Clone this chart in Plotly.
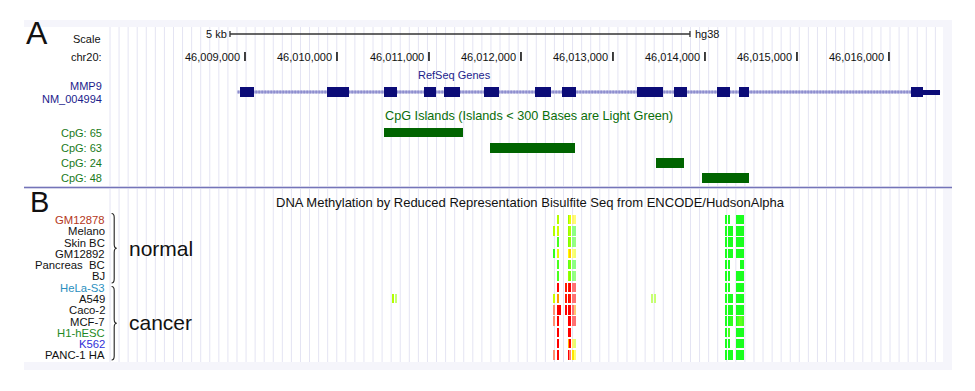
import plotly.graph_objects as go

W, H = 975, 391
FONT = "Liberation Sans, Arial, sans-serif"

# ---- genomic axis calibration (from tick marks in the picture) ----
X0_BP = 46006337
BP_PER_PX = 10.87
X1_BP = X0_BP + W * BP_PER_PX

tick_bp = [46009000, 46010000, 46011000, 46012000, 46013000, 46014000, 46015000, 46016000]
tick_labels = ["46,009,000", "46,010,000", "46,011,000", "46,012,000",
               "46,013,000", "46,014,000", "46,015,000", "46,016,000"]
scale_start_bp, scale_len_bp = 46008837, 5000

# ---- RefSeq gene MMP9 ----
gene_start, gene_end = 46008920, 46016555
exon_starts = [46008946, 46009891, 46010511, 46010946, 46011163, 46011598, 46012152,
               46012446, 46013261, 46013663, 46014131, 46014370, 46016240]
exon_ends = [46009098, 46010131, 46010652, 46011076, 46011337, 46011761, 46012326,
             46012598, 46013544, 46013805, 46014272, 46014479, 46016370]
utr_start, utr_end = 46016370, 46016555

# ---- CpG islands ----
cpg_names = ["CpG: 65", "CpG: 63", "CpG: 24", "CpG: 48"]
cpg_starts = [46010511, 46011663, 46013468, 46013968]
cpg_ends = [46011370, 46012587, 46013772, 46014479]

# ---- RRBS methylation ----
cell_lines = ["GM12878", "Melano", "Skin BC", "GM12892", "Pancreas\u00a0 BC", "BJ",
              "HeLa-S3", "A549", "Caco-2", "MCF-7", "H1-hESC", "K562", "PANC-1 HA"]
cell_colors = ["#b5381c", "#111111", "#111111", "#111111", "#111111", "#111111",
               "#2a8fc0", "#111111", "#111111", "#111111", "#1f8a1f", "#3030d8", "#111111"]

N = None
sites_1 = [46012362, 46012406, 46012424, 46012495, 46012519, 46012535, 46012571, 46012589]
meth_1 = [
    [N, 35, N, N, 30, 45, 55, 50],
    [35, 40, N, N, 30, 35, 10, 10],
    [N, 15, N, N, 25, 30, 10, 15],
    [10, 45, N, N, 50, 60, 50, 45],
    [N, 15, N, N, 20, 25, 10, 10],
    [N, 15, N, N, 30, 25, 10, 15],
    [N, 100, N, 95, 95, 100, 100, 100],
    [40, 70, N, 95, 100, 95, 100, 100],
    [90, 100, 100, 100, 100, 100, 100, 70],
    [90, 100, N, N, 100, 100, 100, 100],
    [N, 100, N, N, 100, 100, N, N],
    [N, 100, N, N, 65, 100, 55, 40],
    [90, 100, N, N, 100, 95, 55, 50],
]
cov_1 = ["HHHHHHLL", "HHHHHHLL", "HHHHHHLL", "HHHHHHLL", "HHHHHHLL", "HHHHHHLL",
         "HHHHHHLL", "HHHHHHLL", "LHHHHHLL", "LHHHHHLL", "HHHHHHHH", "HHHHHHLL",
         "LHHHHLHL"]

sites_2 = [46014231, 46014264, 46014283, 46014300, 46014345, 46014363, 46014381,
           46014398, 46014416]
meth_2 = [
    [5, 5, N, N, 5, 5, 5, 5, 5],
    [5, 5, 5, 5, 5, 5, 5, 5, 5],
    [5, 5, 5, 5, 5, 5, 5, 5, 5],
    [5, 5, 5, 5, 5, 5, 5, 5, 5],
    [5, 5, N, N, N, N, N, 5, 5],
    [5, 5, N, N, 5, 5, 5, 5, 5],
    [5, 5, N, N, 5, 5, 5, 5, 5],
    [5, 5, 5, 5, 5, 5, 5, 5, 5],
    [5, 5, 5, 5, 5, 5, 5, 5, 5],
    [5, 5, 10, 10, 5, 15, 20, 20, 15],
    [5, 15, N, N, 5, 5, 5, 5, 5],
    [5, 5, N, N, 5, 5, 5, 5, 5],
    [5, 5, 5, 5, 5, 5, 5, 5, 5],
]

lone_sites = [46010615, 46010644, 46013430, 46013460]
lone_row = "A549"
lone_meth = [35, 30, 30, 30]
lone_cov = "HLLL"


# ---------------------------------------------------------------
def px(x):
    return x / W


def meth_color(v, cov):
    if v <= 50:
        t = v / 50.0
        r, g, b = 255 * t, 255, 0
    else:
        t = (v - 50) / 50.0
        r, g, b = 255, 255 * (1 - t), 0
    if v < 25:
        r, g, b = r * 0.9 + 40 * 0.1, g, b + 30
    if cov == "L":
        f = 0.45
        r, g, b = r + (255 - r) * f, g + (255 - g) * f, b + (255 - b) * f
    return "rgb(%d,%d,%d)" % (r, g, b)


fig = go.Figure()

shapes = []
annotations = []


def ann(text, x, y, size=11, color="#111111", xanchor="right", yanchor="middle"):
    annotations.append(dict(text=text, x=px(x), y=y, xref="paper", yref="y",
                            xanchor=xanchor, yanchor=yanchor, showarrow=False,
                            font=dict(family=FONT, size=size, color=color)))


def rect_px(x0, y0, x1, y1, color):
    shapes.append(dict(type="rect", xref="paper", yref="y", x0=px(x0), x1=px(x1),
                       y0=y0, y1=y1, fillcolor=color, line=dict(width=0), layer="below"))


# panel backgrounds
rect_px(24, 20, 952, 370, "#f5f5fb")
rect_px(24, 27, 943, 186, "#ffffff")
rect_px(24, 189, 943, 362, "#ffffff")

# guide lines (every ~9 px across the data area), drawn beneath the data
step_bp = 9.07 * BP_PER_PX
pos = X0_BP + 110 * BP_PER_PX
while pos < X0_BP + 944 * BP_PER_PX:
    for (ya, yb) in [(27, 186), (189, 362)]:
        shapes.append(dict(type="line", xref="x", yref="y", x0=pos, x1=pos, y0=ya, y1=yb,
                           line=dict(color="#e4e4f3", width=1), layer="below"))
    pos += step_bp

# separator between panels
shapes.append(dict(type="line", xref="paper", yref="y", x0=px(24), x1=px(952), y0=187.5,
                   y1=187.5, line=dict(color="#7474b8", width=1.6)))

# scale bar
s0, s1 = scale_start_bp, scale_start_bp + scale_len_bp
shapes.append(dict(type="line", xref="x", yref="y", x0=s0, x1=s1, y0=34, y1=34,
                   line=dict(color="#333333", width=1.3)))
for xs in (s0, s1):
    shapes.append(dict(type="line", xref="x", yref="y", x0=xs, x1=xs, y0=31, y1=37,
                       line=dict(color="#333333", width=1.3)))
ann("5 kb", (s0 - X0_BP) / BP_PER_PX - 1, 34, size=11, xanchor="right")
ann("hg38", (s1 - X0_BP) / BP_PER_PX + 3, 34, size=11, xanchor="left")

# chromosome ticks
for tb, tl in zip(tick_bp, tick_labels):
    shapes.append(dict(type="line", xref="x", yref="y", x0=tb, x1=tb, y0=52, y1=61,
                       line=dict(color="#111111", width=1.6)))
    ann(tl, (tb - X0_BP) / BP_PER_PX - 3, 56.5, size=11, xanchor="right")

# gene model: intron line beneath the exon bars
shapes.append(dict(type="line", xref="x", yref="y", x0=gene_start, x1=gene_end, y0=92, y1=92,
                   line=dict(color="rgb(170,170,220)", width=3), layer="below"))
shapes.append(dict(type="line", xref="x", yref="y", x0=gene_start, x1=gene_end, y0=92, y1=92,
                   line=dict(color="rgb(125,125,198)", width=3, dash="1px,2px"),
                   layer="below"))
exon_x = [e - s for s, e in zip(exon_starts, exon_ends)]
fig.add_trace(go.Bar(orientation="h", y=[92] * len(exon_starts), x=exon_x, base=exon_starts,
                     width=9.5, marker=dict(color="#0c0c78", line=dict(width=0)),
                     hoverinfo="skip", showlegend=False))
fig.add_trace(go.Bar(orientation="h", y=[92], x=[utr_end - utr_start], base=[utr_start],
                     width=5, marker=dict(color="#0c0c78", line=dict(width=0)),
                     hoverinfo="skip", showlegend=False))

# CpG islands
cpg_y = [132.5, 148, 163, 178]
fig.add_trace(go.Bar(orientation="h", y=cpg_y,
                     x=[e - s for s, e in zip(cpg_starts, cpg_ends)], base=cpg_starts,
                     width=9.5, marker=dict(color="#006400", line=dict(width=0)),
                     hoverinfo="skip", showlegend=False))

# RRBS methylation bars (categorical y axis for the cell lines)
bx, by, bc = [], [], []
for r, name in enumerate(cell_lines):
    for sites, meth, cov in ((sites_1, meth_1[r], cov_1[r]), (sites_2, meth_2[r], "H" * 9)):
        for s, v, c in zip(sites, meth, cov):
            if v is None:
                continue
            bx.append(s)
            by.append(name)
            bc.append(meth_color(v, c))
for s, v, c in zip(lone_sites, lone_meth, lone_cov):
    bx.append(s)
    by.append(lone_row)
    bc.append(meth_color(v, c))
SITE_W = 14
fig.add_trace(go.Bar(orientation="h", y=by, x=[SITE_W] * len(bx),
                     base=[b - SITE_W / 2 for b in bx], width=0.84,
                     marker=dict(color=bc, line=dict(width=0)), yaxis="y2",
                     hoverinfo="skip", showlegend=False))

# ---- text ----
ann("A", 24, 33, size=32, xanchor="left")
ann("B", 28, 202, size=29, xanchor="left")
ann("Scale", 103, 39, size=11)
ann("chr20:", 104, 57, size=11)
ann("MMP9", 104, 86, size=11, color="#1c1c8c")
ann("NM_004994", 104, 98.5, size=11, color="#1c1c8c")
ann("RefSeq Genes", 454, 75, size=11, color="#1c1c8c", xanchor="center")
ann("CpG Islands (Islands &lt; 300 Bases are Light Green)", 383, 116, size=12.7,
    color="#0a6e0a", xanchor="left")
for name, yy in zip(cpg_names, cpg_y):
    ann(name, 104, yy, size=11, color="#1a7a1a")
ann("DNA Methylation by Reduced Representation Bisulfite Seq from ENCODE/HudsonAlpha",
    530, 202, size=13, xanchor="center")

row_top, row_bot = 214.4, 361.0
band = (row_bot - row_top) / len(cell_lines)
for i, (name, col) in enumerate(zip(cell_lines, cell_colors)):
    ann(name, 106.5, row_top + band * (i + 0.5), size=11.3, color=col)

ann("normal", 127, 248, size=21, xanchor="left")
ann("cancer", 127, 322, size=21, xanchor="left")


# braces
def brace(ya, yb, x=114.2, w=2.6):
    ym = (ya + yb) / 2
    p = (f"M {px(x - w)},{ya} Q {px(x)},{ya} {px(x)},{ya + 4} "
         f"L {px(x)},{ym - 4} Q {px(x)},{ym} {px(x + w)},{ym} "
         f"Q {px(x)},{ym} {px(x)},{ym + 4} L {px(x)},{yb - 4} "
         f"Q {px(x)},{yb} {px(x - w)},{yb}")
    shapes.append(dict(type="path", xref="paper", yref="y", path=p,
                       line=dict(color="#222222", width=1.1)))


brace(213.5, 283)
brace(286.5, 360)

fig.update_layout(
    width=W, height=H, margin=dict(l=0, r=0, t=0, b=0),
    paper_bgcolor="white", plot_bgcolor="rgba(0,0,0,0)",
    barmode="overlay", bargap=0,
    xaxis=dict(range=[X0_BP, X1_BP], visible=False, domain=[0, 1], fixedrange=True),
    yaxis=dict(range=[H, 0], visible=False, domain=[0, 1], fixedrange=True),
    yaxis2=dict(type="category", categoryorder="array", categoryarray=cell_lines,
                range=[len(cell_lines) - 0.5, -0.5], visible=False,
                domain=[1 - row_bot / H, 1 - row_top / H], anchor="x", fixedrange=True),
    shapes=shapes, annotations=annotations, showlegend=False,
)

fig.write_html("out.html", config={"displayModeBar": False},
               post_script="document.body.style.margin='0px';")
